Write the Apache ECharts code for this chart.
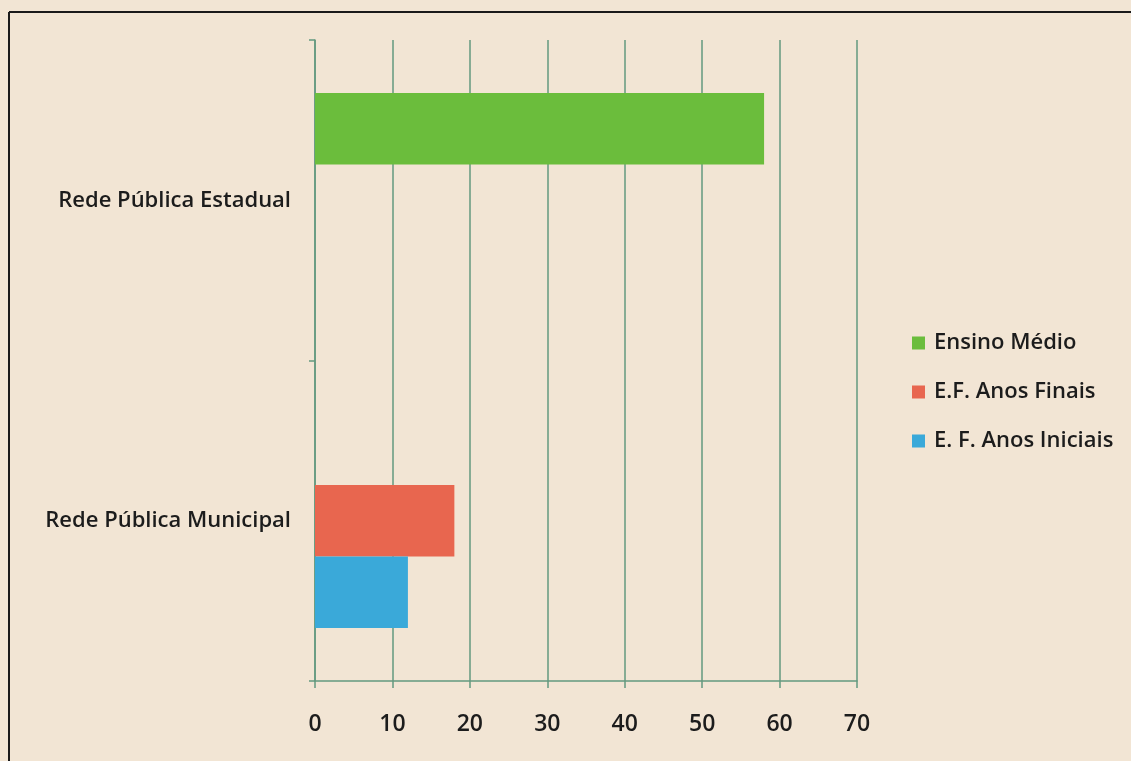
<!DOCTYPE html>
<html>
<head>
<meta charset="utf-8">
<script src="https://cdn.jsdelivr.net/npm/echarts@6/dist/echarts.min.js"></script>
<style>
  html, body { margin: 0; padding: 0; background: #f2e5d4; }
  #chart { width: 1131px; height: 761px; }
</style>
</head>
<body>
<div id="chart"></div>
<script>
// categorias (de baixo para cima)
const categories = ['Rede Pública Municipal', 'Rede Pública Estadual']
const ensinoMedio = [null, 58]
const anosFinais = [18, null]
const anosIniciais = [12, null]
const seriesNames = ['Ensino Médio', 'E.F. Anos Finais', 'E. F. Anos Iniciais']

const font = 'Open Sans'
const gridColor = '#63997f'
const textColor = '#1c1c1c'

const chart = echarts.init(document.getElementById('chart'))
chart.setOption({
  backgroundColor: '#f2e5d4',
  animation: false,
  textStyle: { fontFamily: font },
  grid: { left: 315, top: 40, width: 542, height: 641 },
  legend: {
    orient: 'vertical',
    left: 907,
    top: 327,
    itemWidth: 13,
    itemHeight: 13,
    itemGap: 27,
    icon: 'rect',
    data: seriesNames,
    textStyle: { fontSize: 22, fontWeight: 600, color: textColor, fontFamily: font, padding: [0, 0, 0, 4] }
  },
  xAxis: {
    type: 'value',
    min: 0,
    max: 70,
    interval: 10,
    axisLine: { show: true, lineStyle: { color: gridColor, width: 1.5 } },
    axisTick: { show: true, length: 7, lineStyle: { color: gridColor, width: 1.5 } },
    splitLine: { show: true, lineStyle: { color: gridColor, width: 1.5 } },
    axisLabel: { fontSize: 23, fontWeight: 600, color: textColor, margin: 32 }
  },
  yAxis: {
    type: 'category',
    data: categories,
    axisLine: { show: true, lineStyle: { color: gridColor, width: 1.5 } },
    axisTick: { show: true, length: 6, lineStyle: { color: gridColor, width: 1.5 } },
    axisLabel: { fontSize: 22, fontWeight: 600, color: textColor, margin: 24 }
  },
  series: [
    { name: seriesNames[0], type: 'bar', data: ensinoMedio, barGap: '0%', barCategoryGap: '33%', itemStyle: { color: '#6bbd3c' } },
    { name: seriesNames[1], type: 'bar', data: anosFinais, itemStyle: { color: '#e8664f' } },
    { name: seriesNames[2], type: 'bar', data: anosIniciais, itemStyle: { color: '#3aa9d9' } }
  ],
  graphic: [
    { type: 'line', shape: { x1: 9, y1: 12, x2: 1131, y2: 12 }, style: { stroke: '#1a1a1a', lineWidth: 2 } },
    { type: 'line', shape: { x1: 9, y1: 12, x2: 9, y2: 761 }, style: { stroke: '#1a1a1a', lineWidth: 2 } }
  ]
})
</script>
</body>
</html>
